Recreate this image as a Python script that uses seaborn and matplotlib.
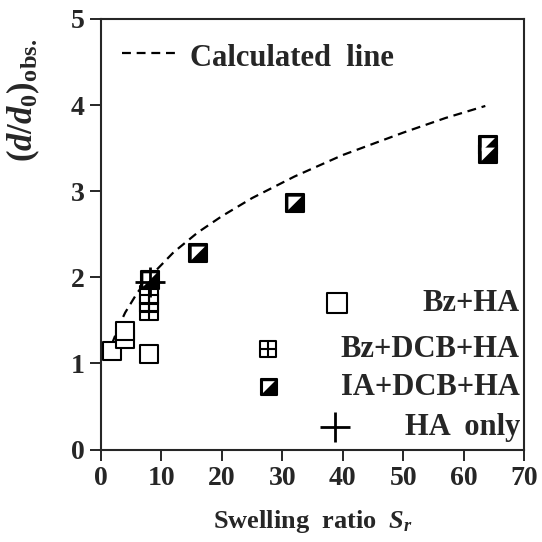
import numpy as np
import pandas as pd
import seaborn as sns
import matplotlib.pyplot as plt

# values
calc_sr = [1.2, 1.5, 2, 3, 4, 6, 8, 12, 16, 20, 25, 32, 40, 50, 57, 63.6]
calc_d = [1.06, 1.14, 1.26, 1.44, 1.59, 1.82, 2.0, 2.29, 2.52, 2.71, 2.92, 3.17, 3.42, 3.68, 3.85, 3.99]

bz_sr = [1.9, 4.0, 4.0, 7.9]
bz_d = [1.14, 1.28, 1.38, 1.11]

bzdcb_sr = [8.0, 8.0, 8.0]
bzdcb_d = [1.61, 1.70, 1.80]

ia_sr = [8.1, 16.1, 32.1, 64.1, 64.1]
ia_d = [1.97, 2.28, 2.86, 3.54, 3.43]

ha_sr = [8.1]
ha_d = [1.95]

xticks = [0, 10, 20, 30, 40, 50, 60, 70]
yticks = [0, 1, 2, 3, 4, 5]

sns.set_style("ticks")
plt.rcParams['font.family'] = ['Liberation Serif', 'DejaVu Serif']
plt.rcParams['font.weight'] = 'bold'
plt.rcParams['mathtext.fontset'] = 'custom'
plt.rcParams['mathtext.rm'] = 'Liberation Serif:bold'
plt.rcParams['mathtext.it'] = 'Liberation Serif:italic:bold'
plt.rcParams['mathtext.bf'] = 'Liberation Serif:bold'

fig = plt.figure(figsize=(5.42, 5.42), dpi=100)
ax = fig.add_axes([101/542, 1 - 449.5/542, 423/542, 430.5/542])

tri = [(-1, 1), (1, 1), (-1, -1)]
sq = 150

calc = pd.DataFrame({"sr": calc_sr, "d": calc_d})
sns.lineplot(data=calc, x="sr", y="d", ax=ax, color="black", lw=1.6,
             linestyle=(0, (4, 2.6)))

def open_sq(x, y, s=sq, **kw):
    sns.scatterplot(x=x, y=y, ax=ax, marker="s", s=s, facecolor="white",
                    edgecolor="black", linewidth=1.5, zorder=3, **kw)

def grid_sq(x, y, s=sq, **kw):
    open_sq(x, y, s=s, **kw)
    sns.scatterplot(x=x, y=y, ax=ax, marker="+", s=s, color="black",
                    linewidth=1.5, zorder=4, **kw)

def half_sq(x, y, s=sq, **kw):
    sns.scatterplot(x=x, y=y, ax=ax, marker="s", s=s, facecolor="black",
                    edgecolor="black", linewidth=1.5, zorder=5, **kw)
    sns.scatterplot(x=x, y=y, ax=ax, marker=tri, s=s * 0.6, facecolor="white",
                    edgecolor="none", linewidth=0, zorder=6, **kw)

def cross(x, y, s=480, **kw):
    sns.scatterplot(x=x, y=y, ax=ax, marker="+", s=s, color="black",
                    linewidth=2.0, zorder=7, **kw)

open_sq(bz_sr, bz_d)
grid_sq(bzdcb_sr, bzdcb_d)
half_sq(ia_sr, ia_d)
cross(ha_sr, ha_d)

# legend drawn by hand in axes coordinates
tr = ax.transAxes
ax.plot([0.050, 0.182], [0.921, 0.921], color="black", lw=1.6,
        linestyle=(0, (4, 2.6)), transform=tr)
ax.text(0.210, 0.908, "Calculated  line", transform=tr, fontsize=22,
        fontweight="bold", va="center", ha="left")

rows = [("Bz+HA", 0.340, 0.558, open_sq),
        ("Bz+DCB+HA", 0.233, 0.395, grid_sq),
        ("IA+DCB+HA", 0.145, 0.397, half_sq),
        ("HA  only", 0.052, 0.553, cross)]
for label, yy, xx, fn in rows:
    if fn is cross:
        fn([xx], [yy], s=480, transform=tr, clip_on=False)
    elif fn is open_sq:
        fn([xx], [yy], s=190, transform=tr)
    else:
        fn([xx], [yy], s=120, transform=tr)
    ax.text(0.990, yy, label, transform=tr, fontsize=22, fontweight="bold",
            va="center", ha="right")

ax.set_xlim(0, 70)
ax.set_ylim(0, 5)
ax.set_xticks(xticks)
ax.set_yticks(yticks)
ax.tick_params(axis="both", direction="out", length=8, width=1.4,
               labelsize=20, pad=4)
for lab in ax.get_xticklabels() + ax.get_yticklabels():
    lab.set_fontweight("bold")
for sp in ax.spines.values():
    sp.set_linewidth(1.5)
    sp.set_visible(True)

ax.set_xlabel(r"Swelling  ratio  $\mathit{S_r}$", fontsize=19, fontweight="bold")
ax.xaxis.set_label_coords(0.5, -0.135)
ax.set_ylabel(r"$(d/d_0)_{\mathrm{obs.}}$", fontsize=25)
ax.yaxis.set_label_coords(-0.14, 0.81)

fig.savefig("out.png", dpi=100)
